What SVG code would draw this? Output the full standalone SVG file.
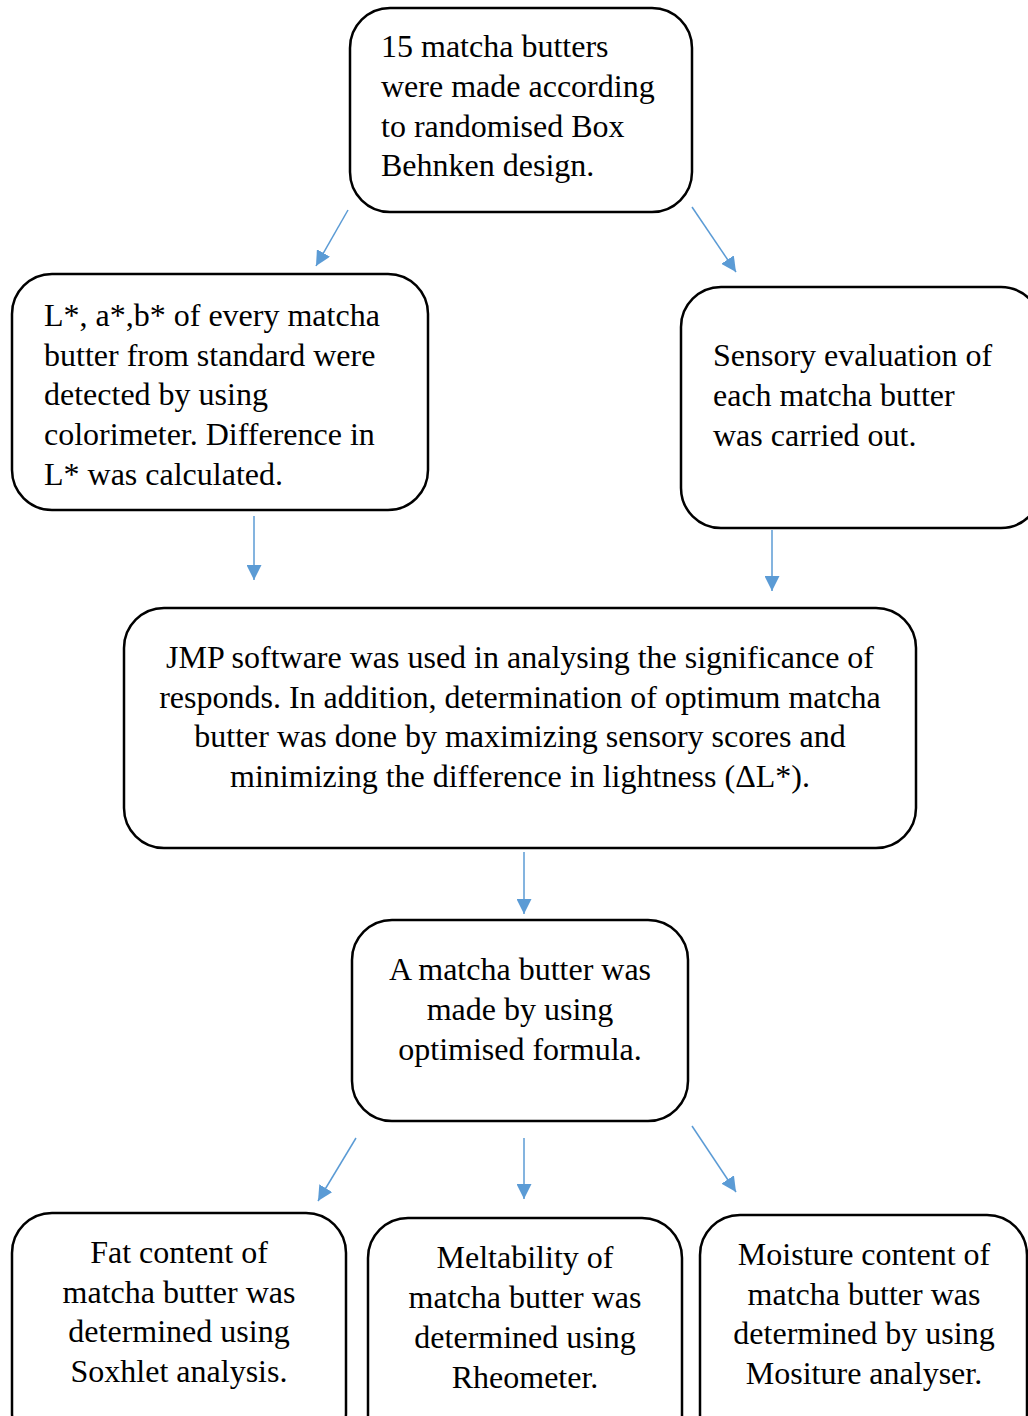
<svg xmlns="http://www.w3.org/2000/svg" width="1028" height="1416" viewBox="0 0 1028 1416">
<defs>
<style>
.box{fill:#fff;stroke:#000;stroke-width:2.5}
.t{font-family:"Liberation Serif","Times New Roman",serif;font-size:32px;fill:#000}
.c{text-anchor:middle}
.a{stroke:#5B9BD5;stroke-width:1.5;fill:none;marker-end:url(#ah)}
</style>
<marker id="ah" viewBox="0 0 10 10" refX="10" refY="5" markerWidth="15" markerHeight="15" markerUnits="userSpaceOnUse" orient="auto">
<path d="M0,0 L10,5 L0,10 z" fill="#5B9BD5"/>
</marker>
</defs>
<rect width="1028" height="1416" fill="#fff"/>
<g id="connectors">
<line class="a" x1="348" y1="210" x2="316" y2="266"/>
<line class="a" x1="692" y1="207" x2="736" y2="272"/>
<line class="a" x1="254" y1="516" x2="254" y2="580"/>
<line class="a" x1="772" y1="530" x2="772" y2="591"/>
<line class="a" x1="524" y1="852" x2="524" y2="914"/>
<line class="a" x1="356" y1="1138" x2="318" y2="1201"/>
<line class="a" x1="524" y1="1138" x2="524" y2="1199"/>
<line class="a" x1="692" y1="1126" x2="736" y2="1192"/>
</g>
<g id="n1">
<rect class="box" x="350" y="8" width="342" height="204" rx="40"/>
<text class="t" x="381" y="57">15 matcha butters</text>
<text class="t" x="381" y="97">were made according</text>
<text class="t" x="381" y="137">to randomised Box</text>
<text class="t" x="381" y="176">Behnken design.</text>
</g>
<g id="n2">
<rect class="box" x="12" y="274" width="416" height="236" rx="40"/>
<text class="t" x="44" y="326">L*, a*,b* of every matcha</text>
<text class="t" x="44" y="366">butter from standard were</text>
<text class="t" x="44" y="405">detected by using</text>
<text class="t" x="44" y="445">colorimeter. Difference in</text>
<text class="t" x="44" y="485">L* was calculated.</text>
</g>
<g id="n3">
<rect class="box" x="681" y="287" width="360" height="241" rx="40"/>
<text class="t" x="713" y="366">Sensory evaluation of</text>
<text class="t" x="713" y="406">each matcha butter</text>
<text class="t" x="713" y="446">was carried out.</text>
</g>
<g id="n4">
<rect class="box" x="124" y="608" width="792" height="240" rx="40"/>
<text class="t c" x="520" y="668">JMP software was used in analysing the significance of</text>
<text class="t c" x="520" y="708">responds. In addition, determination of optimum matcha</text>
<text class="t c" x="520" y="747">butter was done by maximizing sensory scores and</text>
<text class="t c" x="520" y="787">minimizing the difference in lightness (ΔL*).</text>
</g>
<g id="n5">
<rect class="box" x="352" y="920" width="336" height="201" rx="40"/>
<text class="t c" x="520" y="980">A matcha butter was</text>
<text class="t c" x="520" y="1020">made by using</text>
<text class="t c" x="520" y="1060">optimised formula.</text>
</g>
<g id="n6">
<rect class="box" x="12" y="1213" width="334" height="240" rx="40"/>
<text class="t c" x="179" y="1263">Fat content of</text>
<text class="t c" x="179" y="1303">matcha butter was</text>
<text class="t c" x="179" y="1342">determined using</text>
<text class="t c" x="179" y="1382">Soxhlet analysis.</text>
</g>
<g id="n7">
<rect class="box" x="368" y="1218" width="314" height="240" rx="40"/>
<text class="t c" x="525" y="1268">Meltability of</text>
<text class="t c" x="525" y="1308">matcha butter was</text>
<text class="t c" x="525" y="1348">determined using</text>
<text class="t c" x="525" y="1388">Rheometer.</text>
</g>
<g id="n8">
<rect class="box" x="700" y="1215" width="327" height="240" rx="40"/>
<text class="t c" x="864" y="1265">Moisture content of</text>
<text class="t c" x="864" y="1305">matcha butter was</text>
<text class="t c" x="864" y="1344">determined by using</text>
<text class="t c" x="864" y="1384">Mositure analyser.</text>
</g>
</svg>
